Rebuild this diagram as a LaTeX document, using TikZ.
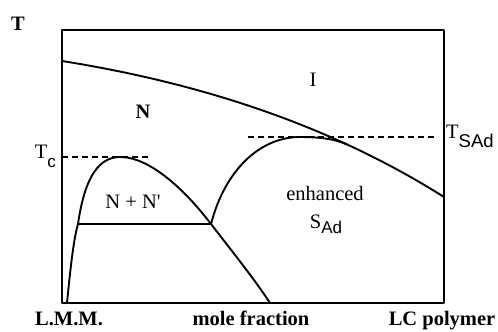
\documentclass[tikz,border=0pt]{standalone}
\usepackage{fontspec}
\setmainfont{Liberation Serif}
\newfontfamily\subfont{Liberation Sans}
\newcommand{\phsub}[3][16]{\raisebox{-#2}{\subfont\fontsize{#1}{#1}\selectfont #3}}

\begin{document}
\begin{tikzpicture}[x=1pt,y=-1pt,line cap=round,line join=round,
    frame/.style={line width=2.8pt,line cap=rect},
    phase/.style={line width=1.9pt},
    guide/.style={line width=1.6pt,dash pattern=on 6pt off 4pt,line cap=butt},
    lbl/.style={font=\fontsize{20.5}{24}\selectfont,inner sep=0pt}]
  \useasboundingbox (0,0) rectangle (498,332);

  % frame
  \draw[frame] (62,30) rectangle (444,303);

  % N / I boundary
  \draw[phase] (62,61) .. controls (200,83) and (330,125) .. (444,197);

  % N + N' coexistence dome
  \draw[phase] (67,303) .. controls (71,262) and (74,238) .. (78,224)
    .. controls (85,175) and (100,157) .. (120,157)
    .. controls (150,157) and (185,190) .. (211,224)
    .. controls (235,255) and (255,280) .. (270,303);
  \draw[phase] (78,224) -- (211,224);

  % enhanced SAd dome
  \draw[phase] (211,224) .. controls (225,170) and (260,137) .. (300,137)
    .. controls (320,137) and (335,139) .. (347,144.5);

  % critical temperatures
  \draw[guide] (62,157) -- (148,157);
  \draw[guide] (248,137) -- (438,137);

  % labels
  \node[lbl,anchor=base] (Taxis) at (18,30) {\bfseries T};
  \node[lbl,anchor=base east] (Tc) at (56,158) {T\phsub[17]{9pt}{c}};
  \node[lbl,anchor=base west] (TSAd) at (446,138) {T\phsub[18.5]{9pt}{SAd}};
  \node[lbl,anchor=base] (Nlbl) at (143,118) {\bfseries N};
  \node[lbl,anchor=base] (Ilbl) at (313,86) {I};
  \node[lbl,anchor=base] (NNlbl) at (133,208) {N + N\textquotesingle};
  \node[lbl,anchor=base] (enh) at (325,200) {enhanced};
  \node[lbl,anchor=base] (SAd) at (326,228) {S\phsub[17]{5pt}{Ad}};
  \node[lbl,anchor=base] (lmm) at (69,325) {\bfseries L.M.M.};
  \node[lbl,anchor=base] (mole) at (251,325) {\bfseries mole fraction};
  \node[lbl,anchor=base] (lcp) at (442,325) {\bfseries LC polymer};
\end{tikzpicture}
\end{document}
